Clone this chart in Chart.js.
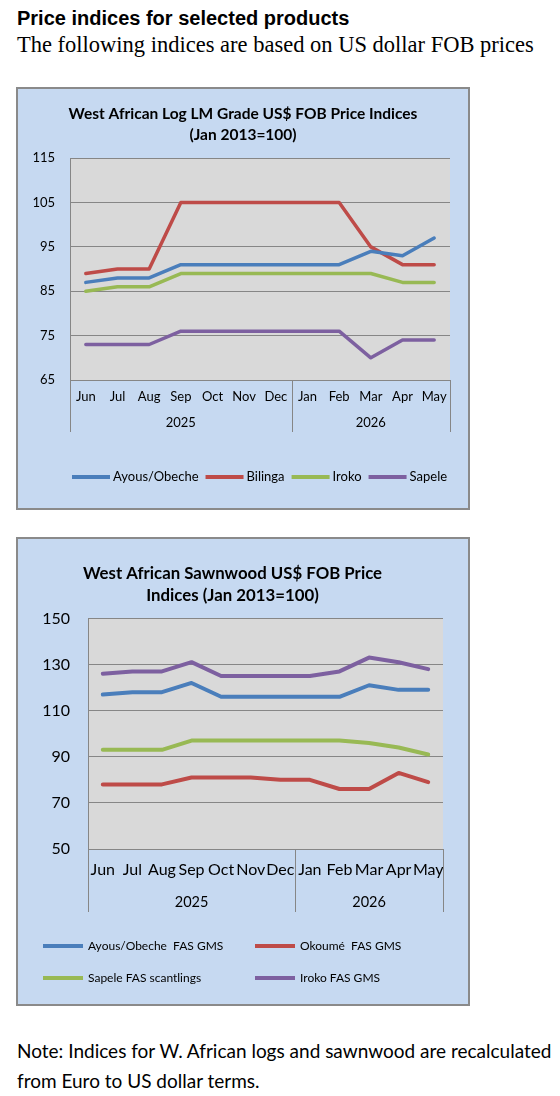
<!DOCTYPE html>
<html>
<head>
<meta charset="utf-8">
<script src="https://cdn.jsdelivr.net/npm/chart.js@4.4.1/dist/chart.umd.min.js"></script>
<style>
  html, body { margin: 0; padding: 0; background: #fff; }
  body { width: 560px; height: 1096px; position: relative; overflow: hidden; }
  .h1 { position: absolute; left: 17px; top: 7px; font: bold 20px "Liberation Sans", Arial, sans-serif; line-height: 22px; color: #000; white-space: nowrap; }
  .h2 { position: absolute; left: 17px; top: 31px; font: 22.5px "Liberation Serif", "Times New Roman", serif; line-height: 28px; color: #000; white-space: nowrap; }
  .box { position: absolute; left: 16px; width: 454px; box-sizing: border-box; border: 2px solid #8a8a8a; background: #c6d9f1; }
  .box canvas { display: block; }
  .note { position: absolute; left: 17px; top: 1036px; font: 19px Lato, sans-serif; line-height: 30px; color: #000; white-space: nowrap; }
</style>
</head>
<body>
<div class="h1">Price indices for selected products</div>
<div class="h2">The following indices are based on US dollar FOB prices</div>

<div class="box" style="top:87px;height:423px;"><canvas id="c1" width="450" height="419" style="width:450px;height:419px"></canvas></div>
<div class="box" style="top:537px;height:469px;"><canvas id="c2" width="450" height="465" style="width:450px;height:465px"></canvas></div>

<div class="note">Note: Indices for W. African logs and sawnwood are recalculated<br>from Euro to US dollar terms.</div>

<script>
// ---- data ----
const months = ['Jun','Jul','Aug','Sep','Oct','Nov','Dec','Jan','Feb','Mar','Apr','May'];
const yearLabels = ['2025','2026'];
const monthsPerYear = [7, 5];

// Chart 1: West African Log LM Grade
const logAyous   = [87, 88, 88, 91, 91, 91, 91, 91, 91, 94, 93, 97];
const logBilinga = [89, 90, 90, 105, 105, 105, 105, 105, 105, 95, 91, 91];
const logIroko   = [85, 86, 86, 89, 89, 89, 89, 89, 89, 89, 87, 87];
const logSapele  = [73, 73, 73, 76, 76, 76, 76, 76, 76, 70, 74, 74];

// Chart 2: West African Sawnwood
const swAyous  = [117, 118, 118, 122, 116, 116, 116, 116, 116, 121, 119, 119];
const swOkoume = [78, 78, 78, 81, 81, 81, 80, 80, 76, 76, 83, 79];
const swSapele = [93, 93, 93, 97, 97, 97, 97, 97, 97, 96, 94, 91];
const swIroko  = [126, 127, 127, 131, 125, 125, 125, 125, 127, 133, 131, 128];

const BLUE = '#4a7ebb', RED = '#be4b48', GREEN = '#98b954', PURPLE = '#7d60a0';
const GRID = '#868686';

// ---- plugins ----
const plotBg = {
  id: 'plotBg',
  beforeDraw(chart) {
    const a = chart.chartArea, ctx = chart.ctx;
    ctx.save();
    ctx.fillStyle = '#d9d9d9';
    ctx.fillRect(a.left, a.top, a.right - a.left, a.bottom - a.top);
    ctx.restore();
  }
};

const yearAxis = {
  id: 'yearAxis',
  afterDraw(chart, args, o) {
    const xs = chart.scales.x, a = chart.chartArea, ctx = chart.ctx;
    const step = xs.getPixelForValue(1) - xs.getPixelForValue(0);
    ctx.save();
    ctx.strokeStyle = GRID;
    ctx.lineWidth = 1;
    ctx.fillStyle = o.color;
    ctx.font = o.font;
    ctx.textAlign = 'center';
    ctx.textBaseline = 'middle';
    let start = 0;
    const edges = [];
    yearLabels.forEach((lab, i) => {
      const end = start + monthsPerYear[i] - 1;
      const left = xs.getPixelForValue(start) - step / 2;
      const right = xs.getPixelForValue(end) + step / 2;
      if (i === 0) edges.push(left);
      edges.push(right);
      ctx.fillText(lab, (left + right) / 2, a.bottom + o.labelOffset);
      start = end + 1;
    });
    edges.forEach(e => {
      const px = Math.round(e) + 0.5;
      ctx.beginPath();
      ctx.moveTo(px, a.bottom);
      ctx.lineTo(px, a.bottom + o.lineLength);
      ctx.stroke();
    });
    ctx.restore();
  }
};

const gridLegend = {
  id: 'gridLegend',
  afterDraw(chart, args, o) {
    const ctx = chart.ctx;
    ctx.save();
    ctx.font = o.font;
    ctx.textBaseline = 'middle';
    ctx.textAlign = 'left';
    let fx = o.x;
    chart.data.datasets.forEach((ds, i) => {
      let x, y;
      if (o.cols) {
        x = o.cols[i % o.cols.length];
        y = o.rows[Math.floor(i / o.cols.length)];
      } else {
        x = fx; y = o.y;
      }
      ctx.fillStyle = ds.borderColor;
      ctx.fillRect(x, y - o.lineWidth / 2, o.lineLen, o.lineWidth);
      ctx.fillStyle = o.color;
      const tx = x + o.lineLen + o.gap;
      ctx.fillText(ds.label, tx, y);
      fx = tx + ctx.measureText(ds.label).width + o.itemGap;
    });
    ctx.restore();
  }
};

function ds(label, data, color, w) {
  return {
    label, data,
    borderColor: color, backgroundColor: color,
    borderWidth: w, pointRadius: 0, pointHoverRadius: 0,
    tension: 0, borderJoinStyle: 'round', borderCapStyle: 'round', fill: false
  };
}

function spacer(width) {
  return {
    type: 'linear', position: 'right', display: true,
    grid: { display: false, drawTicks: false },
    border: { display: false },
    ticks: { display: false },
    afterFit(s) { s.width = width; }
  };
}

// ---- Chart 1 ----
new Chart(document.getElementById('c1'), {
  type: 'line',
  data: {
    labels: months,
    datasets: [
      ds('Ayous/Obeche', logAyous, BLUE, 3.5),
      ds('Bilinga', logBilinga, RED, 3.5),
      ds('Iroko', logIroko, GREEN, 3.5),
      ds('Sapele', logSapele, PURPLE, 3.5)
    ]
  },
  options: {
    responsive: false,
    animation: false,
    events: [],
    layout: { padding: { left: 0, right: 0, top: 0, bottom: 68 } },
    plugins: {
      legend: { display: false },
      tooltip: { enabled: false },
      title: {
        display: true,
        text: ['West African Log LM Grade US$ FOB Price Indices', '(Jan 2013=100)'],
        color: '#000',
        font: { family: 'Lato', size: 15.5, weight: 'bold', lineHeight: 1.36 },
        padding: { top: 14, bottom: 13 }
      },
      yearAxis: { font: '13px Lato', color: '#000', labelOffset: 43, lineLength: 52 },
      gridLegend: { x: 54, y: 388, lineLen: 38, lineWidth: 4, gap: 3, itemGap: 7, font: '13px Lato', color: '#000' }
    },
    scales: {
      x: {
        offset: true,
        grid: { display: false, drawTicks: false },
        border: { display: true, color: GRID, width: 1 },
        ticks: { color: '#000', font: { family: 'Lato', size: 13 }, padding: 9, maxRotation: 0, autoSkip: false },
        afterFit(s) { s.height = 60; }
      },
      y: {
        min: 65, max: 115,
        ticks: { stepSize: 10, color: '#000', font: { family: 'Lato', size: 13 }, padding: 15 },
        grid: { color: GRID, drawTicks: false },
        border: { display: true, color: GRID, width: 1 },
        afterFit(s) { s.width = 52; }
      },
      yR: spacer(18)
    }
  },
  plugins: [plotBg, yearAxis, gridLegend]
});

// ---- Chart 2 ----
new Chart(document.getElementById('c2'), {
  type: 'line',
  data: {
    labels: months,
    datasets: [
      ds('Ayous/Obeche  FAS GMS', swAyous, BLUE, 4),
      ds('Okoumé  FAS GMS', swOkoume, RED, 4),
      ds('Sapele FAS scantlings', swSapele, GREEN, 4),
      ds('Iroko FAS GMS', swIroko, PURPLE, 4)
    ]
  },
  options: {
    responsive: false,
    animation: false,
    events: [],
    layout: { padding: { left: 0, right: 21, top: 0, bottom: 85 } },
    plugins: {
      legend: { display: false },
      tooltip: { enabled: false },
      title: {
        display: true,
        text: ['West African Sawnwood US$ FOB Price', 'Indices (Jan 2013=100)'],
        color: '#000',
        font: { family: 'Lato', size: 16.8, weight: 'bold', lineHeight: 1.35 },
        padding: { top: 23, bottom: 11 }
      },
      yearAxis: { font: '14.5px Lato', color: '#000', labelOffset: 53, lineLength: 63 },
      gridLegend: { cols: [25, 237], rows: [407, 439], lineLen: 40, lineWidth: 4, gap: 5, itemGap: 0, font: '12px Lato', color: '#000' }
    },
    scales: {
      x: {
        offset: true,
        grid: { display: false, drawTicks: false },
        border: { display: true, color: GRID, width: 1 },
        ticks: { color: '#000', font: { family: 'Lato', size: 16 }, padding: 11.5, maxRotation: 0, autoSkip: false },
        afterFit(s) { s.height = 70; }
      },
      y: {
        min: 50, max: 150,
        ticks: { stepSize: 20, color: '#000', font: { family: 'Lato', size: 16 }, padding: 18 },
        grid: { color: GRID, drawTicks: false },
        border: { display: true, color: GRID, width: 1 },
        afterFit(s) { s.width = 70; }
      },
      yR: spacer(4)
    }
  },
  plugins: [plotBg, yearAxis, gridLegend]
});
</script>
</body>
</html>
